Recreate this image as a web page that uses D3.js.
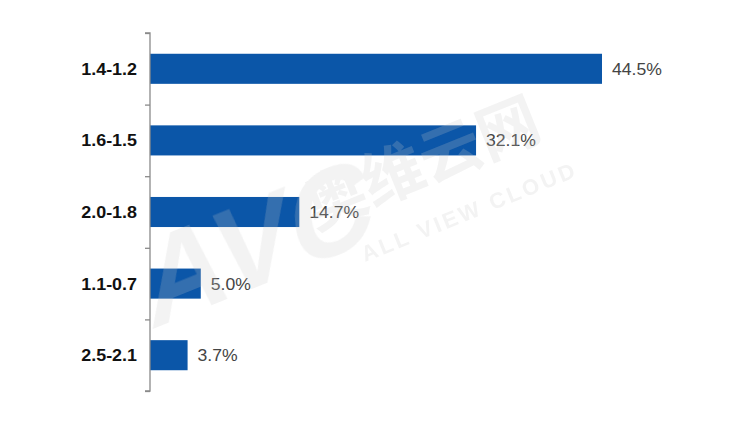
<!DOCTYPE html>
<html><head><meta charset="utf-8">
<script src="https://cdn.jsdelivr.net/npm/d3@7"></script>
<style>body{margin:0;background:#fff;}svg{display:block;}</style>
</head><body>
<svg id="chart" width="732" height="422"></svg>
<script>
const categories = ["1.4-1.2", "1.6-1.5", "2.0-1.8", "1.1-0.7", "2.5-2.1"];
const values = [44.5, 32.1, 14.7, 5.0, 3.7];
const valueLabels = ["44.5%", "32.1%", "14.7%", "5.0%", "3.7%"];

const svg = d3.select("#chart");
const x0 = 150, yTop = 33, yBottom = 391;
const x = d3.scaleLinear().domain([0, 44.5]).range([x0, 602]);
const y = d3.scaleBand().domain(categories).range([yTop, yBottom]).paddingInner(0.58).paddingOuter(0.29);
const yTicks = d3.scaleLinear().domain([0, categories.length]).range([yTop, yBottom]);

const data = categories.map((c, i) => ({c, v: values[i], l: valueLabels[i]}));

svg.append("g").selectAll("rect").data(data).join("rect")
  .attr("x", x0).attr("y", d => y(d.c))
  .attr("width", d => x(d.v) - x0).attr("height", y.bandwidth())
  .attr("fill", "#0b56a8");

const axis = svg.append("g").attr("transform", `translate(${x0},0)`)
  .call(d3.axisLeft(yTicks).tickValues(d3.range(0, categories.length + 1)).tickSize(5).tickFormat(""));
axis.selectAll("path, line").attr("stroke", "#8a8a8a").attr("stroke-width", 1.3);
axis.select("path").attr("d", `M-5,${yTop}H0V${yBottom}H-5`);

svg.append("g").selectAll("text").data(data).join("text")
  .attr("transform", d => `translate(137,${y(d.c) + y.bandwidth() / 2 + 6}) scale(1.12,1)`)
  .attr("text-anchor", "end")
  .attr("font-family", "Liberation Sans, Arial, sans-serif")
  .attr("font-weight", "bold").attr("font-size", 16).attr("fill", "#111")
  .text(d => d.c);

svg.append("g").selectAll("text").data(data).join("text")
  .attr("transform", d => `translate(${x(d.v) + 10},${y(d.c) + y.bandwidth() / 2 + 6}) scale(1.1,1)`)
  .attr("font-family", "Liberation Sans, Arial, sans-serif")
  .attr("font-size", 16).attr("fill", "#444")
  .text(d => d.l);

// faint watermark
const wm = svg.append("g").attr("opacity", 0.22).attr("fill", "#c8c8c8").attr("pointer-events", "none");
wm.append("text").attr("transform", "translate(150,330) rotate(-22) skewX(-15)")
  .attr("font-family", "Liberation Sans, Arial, sans-serif").attr("font-weight", "bold")
  .attr("font-size", 120).text("AVC");
wm.append("text").attr("transform", "translate(315,230) rotate(-22)")
  .attr("font-family", "Noto Sans CJK SC, sans-serif").attr("font-weight", "bold")
  .attr("font-size", 62).text("奥维云网");
wm.append("text").attr("transform", "translate(365,262) rotate(-22)")
  .attr("font-family", "Liberation Sans, Arial, sans-serif").attr("font-weight", "bold")
  .attr("font-size", 22).attr("letter-spacing", 3).text("ALL VIEW CLOUD");
</script>
</body></html>
